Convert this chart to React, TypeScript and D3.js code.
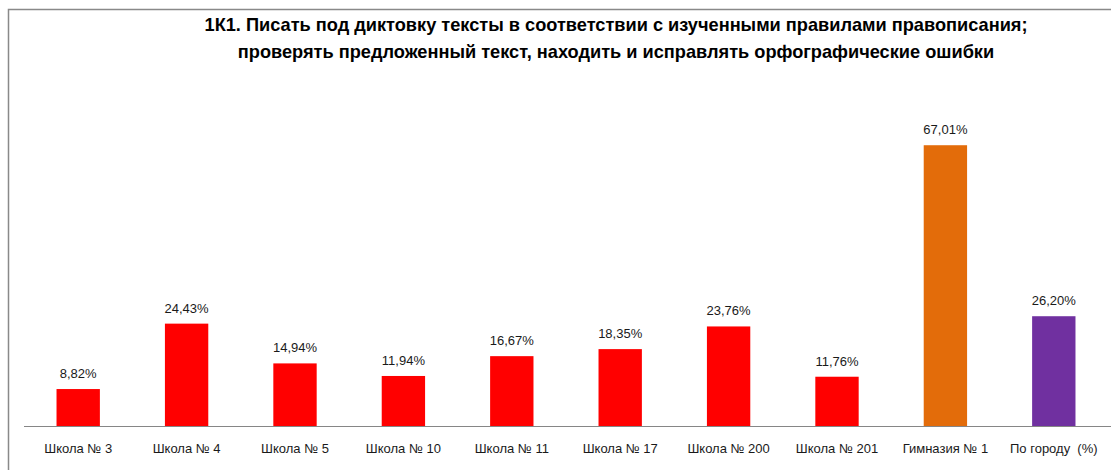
import { useEffect, useRef } from "react";
import * as d3 from "d3";

// Chart data
const categories = [
  "Школа № 3",
  "Школа № 4",
  "Школа № 5",
  "Школа № 10",
  "Школа № 11",
  "Школа № 17",
  "Школа № 200",
  "Школа № 201",
  "Гимназия № 1",
  "По городу  (%)",
];
const values = [8.82, 24.43, 14.94, 11.94, 16.67, 18.35, 23.76, 11.76, 67.01, 26.2];
const barColors = [
  "#FF0000", "#FF0000", "#FF0000", "#FF0000", "#FF0000",
  "#FF0000", "#FF0000", "#FF0000", "#E36C0A", "#7030A0",
];
const titleLines = [
  "1К1. Писать под диктовку тексты в соответствии с изученными правилами правописания;",
  "проверять предложенный текст, находить и исправлять орфографические ошибки",
];

const W = 1111;
const H = 470;
const FONT = "'Liberation Sans', Arial, sans-serif";

export default function App() {
  const svgRef = useRef<SVGSVGElement>(null);

  useEffect(() => {
    if (!svgRef.current) return;
    const svg = d3.select(svgRef.current);
    svg.html("");

    const baseY = 426;

    const x = d3.scaleBand<string>()
      .domain(categories)
      .range([24, 1108])
      .paddingInner(0.6)
      .paddingOuter(0.3);

    const y = d3.scaleLinear()
      .domain([0, 80])
      .range([baseY, baseY - 80 * 4.19]);

    // outer frame
    svg.append("rect")
      .attr("x", 8.5)
      .attr("y", 9.5)
      .attr("width", W + 20)
      .attr("height", H + 20)
      .attr("fill", "white")
      .attr("stroke", "#898989")
      .attr("stroke-width", 1.5);

    // title
    const title = svg.append("text")
      .attr("font-family", FONT)
      .attr("font-weight", "bold")
      .attr("font-size", 18.2)
      .attr("fill", "#000")
      .attr("text-anchor", "middle");
    titleLines.forEach((line, i) => {
      title.append("tspan")
        .attr("x", 616)
        .attr("y", 31 + i * 27)
        .text(line);
    });

    // bars
    svg.append("g")
      .selectAll("rect")
      .data(values)
      .join("rect")
      .attr("x", (_, i) => x(categories[i])!)
      .attr("y", (d) => y(d))
      .attr("width", x.bandwidth())
      .attr("height", (d) => baseY - y(d))
      .attr("fill", (_, i) => barColors[i]);

    // value labels
    svg.append("g")
      .selectAll("text")
      .data(values)
      .join("text")
      .attr("x", (_, i) => x(categories[i])! + x.bandwidth() / 2)
      .attr("y", (d) => y(d) - 11)
      .attr("text-anchor", "middle")
      .attr("font-family", FONT)
      .attr("font-size", 13)
      .attr("fill", "#1a1a1a")
      .text((d) => d.toFixed(2).replace(".", ",") + "%");

    // x axis
    const axis = svg.append("g")
      .attr("transform", `translate(0,${baseY})`)
      .call(d3.axisBottom(x).tickSize(0).tickPadding(18));
    axis.select(".domain").attr("stroke", "#868686").attr("d", `M24,0.5H${W}`);
    axis.selectAll("text")
      .attr("font-family", FONT)
      .attr("font-size", 13)
      .attr("fill", "#1a1a1a")
      .style("white-space", "pre");
  }, []);

  return (
    <svg
      ref={svgRef}
      width={W}
      height={H}
      style={{ position: "absolute", left: 0, top: 0, background: "white" }}
    />
  );
}
